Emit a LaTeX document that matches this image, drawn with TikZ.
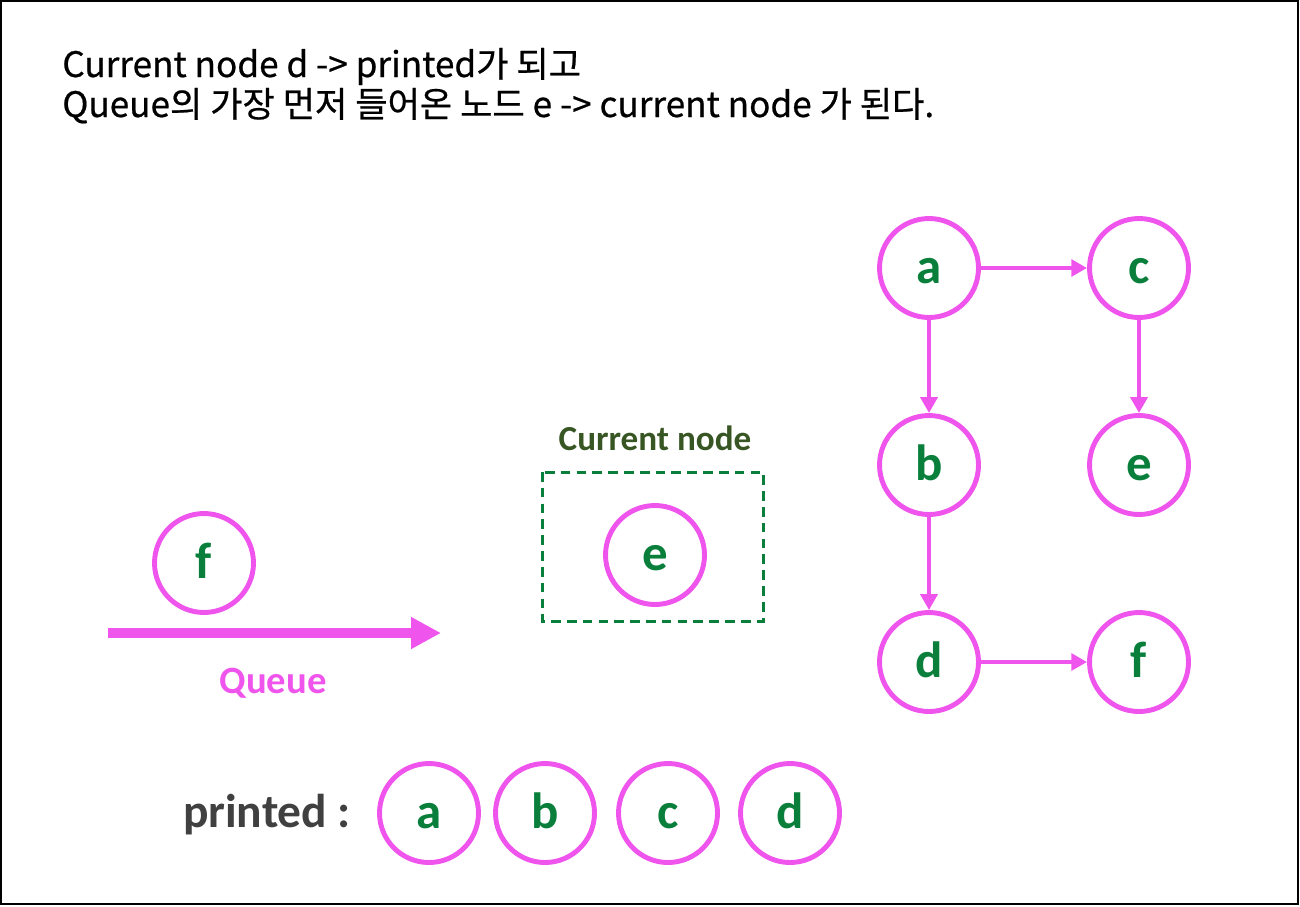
\documentclass[tikz,border=0pt]{standalone}
\usepackage{fontspec}
\usetikzlibrary{arrows.meta, positioning}
\newfontfamily\krfont[FakeBold=0.6]{Noto Sans CJK KR}
\newfontfamily\calfont{Carlito}
\definecolor{qmagenta}{HTML}{EF55EC}
\definecolor{qgreen}{HTML}{0A7F3C}
\definecolor{qolive}{HTML}{375623}
\definecolor{qgray}{HTML}{404040}

\begin{document}
\begin{tikzpicture}[x=0.02cm, y=-0.02cm,
  vert/.style={circle, draw=qmagenta, line width=2.8pt, minimum size=1.98cm, inner sep=0pt,
    text height=0.6cm, text depth=0cm,
    text=qgreen, font=\calfont\bfseries\fontsize{29}{31}\selectfont},
  edge/.style={draw=qmagenta, line width=2.3pt, -{Triangle[length=9pt,width=9.5pt]}},
  heading/.style={anchor=base west, inner sep=0pt, font=\krfont\fontsize{20}{22}\selectfont}]
  \useasboundingbox (0,0) rectangle (1300,906);
  \draw[line width=1.3pt] (1,1) rectangle (1298,904);
  % heading
  \node[heading] (line1) at (62,77) {Current node d -> printed가 되고};
  \node[heading] (line2) at (62,117) {Queue의 가장 먼저 들어온 노드 e -> current node 가 된다.};
  % graph
  \node[vert] (a) at (929,268) {a};
  \node[vert] (c) at (1139,268) {c};
  \node[vert] (b) at (929,465) {b};
  \node[vert] (e) at (1139,465) {e};
  \node[vert] (d) at (929,662) {d};
  \node[vert] (f) at (1139,662) {f};
  \draw[edge] (a) -- (c);
  \draw[edge] (a) -- (b);
  \draw[edge] (c) -- (e);
  \draw[edge] (b) -- (d);
  \draw[edge] (d) -- (f);
  % current node
  \node[font=\calfont\bfseries\fontsize{20}{22}\selectfont, text=qolive] (curlabel) at (655,438) {Current node};
  \draw[qgreen, line width=1.7pt, dash pattern=on 5.5pt off 3.5pt] (542,472) rectangle (763,621);
  \node[vert] (cur) at (655,555) {e};
  % queue
  \node[vert] (qf) at (204,563) {f};
  \coordinate (qstart) at (108,633);
  \coordinate (qend) at (441,633);
  \draw[qmagenta, line width=5.6pt, -{Triangle[length=17pt,width=17pt]}] (qstart) -- (qend);
  \node[font=\calfont\bfseries\fontsize{22}{24}\selectfont, text=qmagenta] (qlabel) at (273,683) {Queue};
  % printed
  \node[font=\calfont\bfseries\fontsize{27}{29}\selectfont, text=qgray] (plabel) at (267,815) {printed :};
  \node[vert] (pa) at (429,813) {a};
  \node[vert] (pb) at (545,813) {b};
  \node[vert] (pc) at (668,813) {c};
  \node[vert] (pd) at (790,813) {d};
\end{tikzpicture}
\end{document}
